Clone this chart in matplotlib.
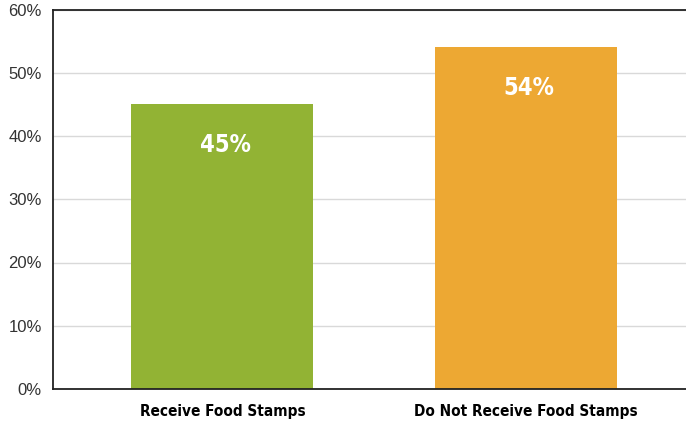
import matplotlib

matplotlib.use("Agg")
import matplotlib.pyplot as plt
from matplotlib.ticker import FuncFormatter

categories = ["Receive Food Stamps", "Do Not Receive Food Stamps"]
shares = [45, 54]
colors = ["#92b334", "#eda833"]
yticks = [0, 10, 20, 30, 40, 50, 60]

W, H = 686, 421
fig = plt.figure(figsize=(W / 100, H / 100), dpi=100)
ax = fig.add_axes([53 / W, (H - 389) / H, (W - 53) / W + 0.01, (389 - 9.5) / H])

x = range(len(categories))
ax.bar(x, shares, width=0.6, color=colors, zorder=2)
for xi, v in zip(x, shares):
    ax.text(xi + 0.01, v - 6.4, f"{v}%", ha="center", va="center", color="white",
            fontsize=17, fontweight="bold", fontstretch="condensed", family="DejaVu Sans")

ax.set_xlim(-0.558, 1.55)
ax.set_ylim(0, 60)
ax.set_yticks(yticks)
ax.yaxis.set_major_formatter(FuncFormatter(lambda v, _: f"{v:.0f}%"))
ax.tick_params(axis="y", length=0, pad=8, labelsize=12, labelcolor="#333333")
ax.set_xticks(list(x))
ax.set_xticklabels(categories, fontsize=11, fontweight="bold",
                   fontstretch="condensed", family="DejaVu Sans")
ax.tick_params(axis="x", length=0, pad=11)
for lab in ax.get_yticklabels():
    lab.set_family(["Liberation Sans", "DejaVu Sans"])

ax.grid(axis="y", color="#d9d9d9", lw=1, zorder=0)
for s in ("left", "top", "bottom"):
    ax.spines[s].set_color("#222222")
    ax.spines[s].set_linewidth(1.3)
ax.spines["right"].set_visible(False)

fig.savefig("out.png", dpi=100)
